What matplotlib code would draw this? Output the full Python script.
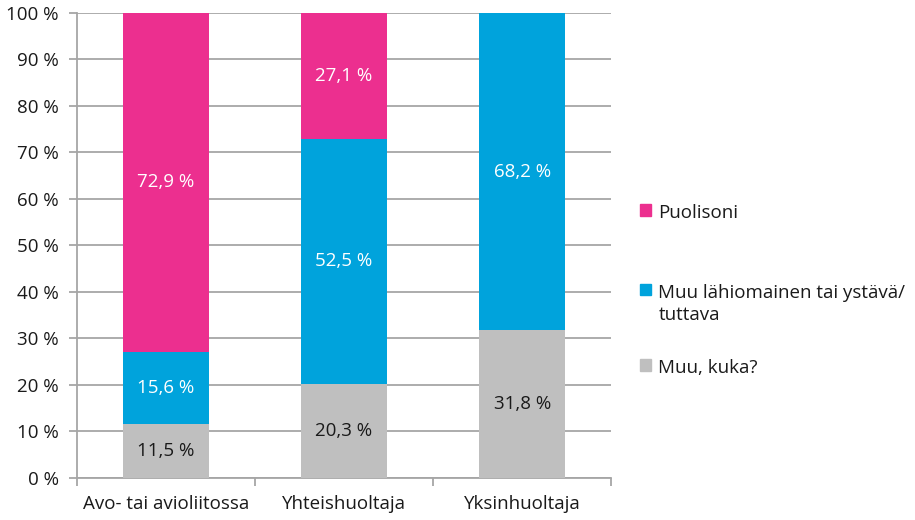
import numpy as np
import matplotlib.pyplot as plt
from matplotlib.patches import Patch

plt.rcParams["font.family"] = ["Open Sans", "DejaVu Sans"]
FS = 13.5

categories = ["Avo- tai avioliitossa", "Yhteishuoltaja", "Yksinhuoltaja"]
series_names = ["Muu, kuka?", "Muu lähiomainen tai ystävä/\ntuttava", "Puolisoni"]
muu_kuka = [11.5, 20.3, 31.8]
muu_lahi = [15.6, 52.5, 68.2]
puolisoni = [72.9, 27.1, 0.0]
series = [muu_kuka, muu_lahi, puolisoni]
colors = ["#BFBFBF", "#00A3DC", "#EC2F8F"]
text_colors = ["#1a1a1a", "white", "white"]
y_ticks = np.arange(0, 101, 10)

fig = plt.figure(figsize=(9.15, 5.2), dpi=100)
ax = fig.add_axes([0.084, 0.081, 0.584, 0.894])

x = np.arange(len(categories))
bottom = np.zeros(len(categories))
for vals, col, tcol in zip(series, colors, text_colors):
    vals = np.array(vals)
    ax.bar(x, vals, width=0.48, bottom=bottom, color=col, zorder=3)
    for xi, v, b in zip(x, vals, bottom):
        if v > 0:
            ax.text(xi, b + v / 2, f"{v:.1f} %".replace(".", ","),
                    ha="center", va="center", color=tcol, fontsize=FS, zorder=4)
    bottom += vals

ax.set_xlim(-0.5, 2.5)
ax.set_ylim(0, 100)
ax.set_yticks(y_ticks)
ax.set_yticklabels([f"{t} %" for t in y_ticks])
ax.yaxis.grid(True, color="#A6A6A6", linewidth=1.3, zorder=0)
ax.set_xticks(x)
ax.set_xticklabels(categories)
ax.set_xticks([-0.5, 0.5, 1.5, 2.5], minor=True)
ax.tick_params(axis="x", which="major", length=0, pad=12, labelsize=FS, colors="#1a1a1a")
ax.tick_params(axis="x", which="minor", length=6, width=1.3, color="#A6A6A6")
ax.tick_params(axis="y", length=6, width=1.3, color="#A6A6A6", labelsize=FS,
               labelcolor="#1a1a1a", pad=7)
for s in ["top", "right"]:
    ax.spines[s].set_visible(False)
for s in ["left", "bottom"]:
    ax.spines[s].set_color("#A6A6A6")
    ax.spines[s].set_linewidth(1.3)

# one legend per entry so the uneven vertical spacing can be matched
legend_y = [0.292, 0.416, 0.590]
for name, col, ly in zip(series_names, colors, legend_y):
    leg = fig.legend([Patch(color=col)], [name], loc="center left",
                     bbox_to_anchor=(0.699, ly), frameon=False, fontsize=FS,
                     handlelength=0.6, handleheight=0.6, handletextpad=0.4,
                     borderpad=0, borderaxespad=0)
    for t in leg.get_texts():
        t.set_color("#1a1a1a")
        t.set_linespacing(1.3)
    # keep the square next to the first text line
    item = leg._legend_handle_box.get_children()[0].get_children()[0]
    item.align = "top"

fig.savefig("out.png", dpi=100)
